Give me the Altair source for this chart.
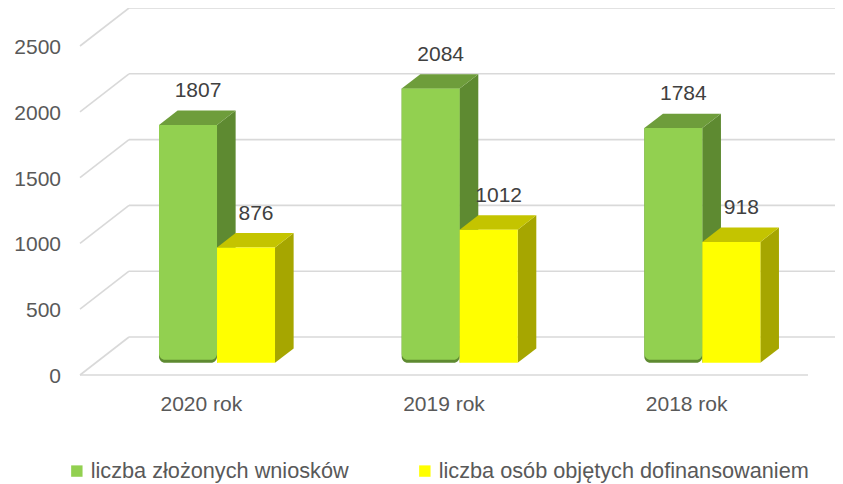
import altair as alt
import pandas as pd

# ---------------- data ----------------
years = ["2020 rok", "2019 rok", "2018 rok"]
series = ["liczba złożonych wniosków", "liczba osób objętych dofinansowaniem"]
wnioski = [1807, 2084, 1784]
osoby = [876, 1012, 918]
ticks = [0, 500, 1000, 1500, 2000, 2500]

# ---------------- styles ----------------
front_colors = ["#92D050", "#FFFF00"]
side_colors = ["#5E8A31", "#A6A600"]
top_colors = ["#6E9D3B", "#C4C400"]
grid_color = "#D9D9D9"
FONT = "Liberation Sans"

# ---------------- layout (pixels) ----------------
W, H = 767, 476
PAD_L = 60
U = 2500 / 329            # value units per pixel on the y scale
Y_MAX = 367 * U
Y_MIN = Y_MAX - H * U
FLOOR_X0, FLOOR_W = 12, 728
BAND = FLOOR_W / len(years)
BAR_W = 58
DEPTH_X, DEPTH_Y = 49, 38
D0, D1 = 0.32, 0.70
BDX = DEPTH_X * (D1 - D0)
BDY = DEPTH_Y * (D1 - D0) * U
YB = DEPTH_Y * D0 * U

rows = []
for i, yr in enumerate(years):
    for j, vals in enumerate([wnioski, osoby]):
        rows.append({"year": yr, "idx": i, "series": series[j], "sidx": j, "value": vals[i]})
bars = pd.DataFrame(rows)
faces = bars.merge(pd.DataFrame({"t": [0, 1]}), how="cross")
grid = pd.DataFrame({"v": ticks})
cats = pd.DataFrame({"year": years, "idx": list(range(len(years)))})

xs = alt.Scale(domain=[0, W], nice=False, zero=False)
ys = alt.Scale(domain=[Y_MIN, Y_MAX], nice=False, zero=False)


def geom(ch):
    return ch.transform_calculate(
        xl=f"{FLOOR_X0} + (datum.idx + 0.5) * {BAND} + (datum.sidx - 1) * {BAR_W} + {DEPTH_X * D0}",
    ).transform_calculate(
        xr=f"datum.xl + {BAR_W}",
        yb=f"{YB}",
        yt=f"{YB} + datum.value",
    )


# ---- grid: back wall, left wall diagonals, floor front edge ----
back = alt.Chart(grid).transform_calculate(
    bx=f"{FLOOR_X0 + DEPTH_X}", bx2=f"{W}"
).mark_rule(color=grid_color, strokeWidth=1.6, yOffset=-DEPTH_Y).encode(
    x=alt.X("bx:Q", scale=xs, axis=None), x2="bx2:Q",
    y=alt.Y("v:Q", scale=ys, axis=None),
)

diag = alt.Chart(grid).transform_calculate(
    dx=f"{FLOOR_X0}", dx2=f"{FLOOR_X0 + DEPTH_X}", dy2=f"datum.v + {DEPTH_Y * U}"
).mark_rule(color=grid_color, strokeWidth=1.6).encode(
    x=alt.X("dx:Q", scale=xs, axis=None), x2="dx2:Q",
    y=alt.Y("v:Q", scale=ys, axis=None), y2="dy2:Q",
)

floor = alt.Chart(grid).transform_filter("datum.v == 0").transform_calculate(
    fx=f"{FLOOR_X0}", fx2=f"{FLOOR_X0 + FLOOR_W}"
).mark_rule(color=grid_color, strokeWidth=1.6).encode(
    x=alt.X("fx:Q", scale=xs, axis=None), x2="fx2:Q",
    y=alt.Y("v:Q", scale=ys, axis=None),
)

# ---- y tick labels (front plane) ----
ylabels = alt.Chart(grid).transform_calculate(
    ax="-7"
).mark_text(fontSize=21, font=FONT, color="#595959", baseline="middle", align="right", dy=2).encode(
    x=alt.X("ax:Q", scale=xs, axis=None),
    y=alt.Y("v:Q", scale=ys, axis=None),
    text="v:Q",
)


def side_layer(j):
    return geom(alt.Chart(faces)).transform_filter(f"datum.sidx == {j}").transform_calculate(
        sx=f"datum.xr + datum.t * {BDX}",
        sy=f"datum.yt + datum.t * {BDY}",
        sy2=f"datum.yb + datum.t * {BDY}",
    ).mark_area(orient="vertical", color=side_colors[j], opacity=1).encode(
        x=alt.X("sx:Q", scale=xs, axis=None),
        y=alt.Y("sy:Q", scale=ys, axis=None, stack=None), y2="sy2:Q",
        detail="year:N",
    )


def top_layer(j):
    return geom(alt.Chart(faces)).transform_filter(f"datum.sidx == {j}").transform_calculate(
        ty=f"datum.yt + datum.t * {BDY}",
        tx=f"datum.xl + datum.t * {BDX}",
        tx2=f"datum.xr + datum.t * {BDX}",
    ).mark_area(orient="horizontal", color=top_colors[j], opacity=1).encode(
        y=alt.Y("ty:Q", scale=ys, axis=None),
        x=alt.X("tx:Q", scale=xs, axis=None, stack=None), x2="tx2:Q",
        detail="year:N",
    )


# ---- front faces ----
green_shadow = geom(alt.Chart(bars)).transform_filter("datum.sidx == 0").mark_rect(
    color="#5E8A31", cornerRadiusBottomLeft=6, cornerRadiusBottomRight=6
).encode(
    x=alt.X("xl:Q", scale=xs, axis=None), x2="xr:Q",
    y=alt.Y("yt:Q", scale=ys, axis=None), y2="yb:Q",
)

green_front = geom(alt.Chart(bars)).transform_filter("datum.sidx == 0").transform_calculate(
    yb2=f"datum.yb + {3 * U}"
).mark_rect(
    color=front_colors[0], cornerRadiusBottomLeft=6, cornerRadiusBottomRight=6
).encode(
    x=alt.X("xl:Q", scale=xs, axis=None), x2="xr:Q",
    y=alt.Y("yt:Q", scale=ys, axis=None), y2="yb2:Q",
)

yellow_front = geom(alt.Chart(bars)).transform_filter("datum.sidx == 1").mark_rect().encode(
    x=alt.X("xl:Q", scale=xs, axis=None), x2="xr:Q",
    y=alt.Y("yt:Q", scale=ys, axis=None), y2="yb:Q",
    color=alt.Color("series:N", scale=alt.Scale(domain=series, range=front_colors),
                    legend=alt.Legend(
                        orient="none", legendX=-2, legendY=452, direction="horizontal",
                        title=None, symbolType="square", symbolSize=130,
                        symbolStrokeWidth=0, labelFontSize=21.7, labelFont=FONT,
                        labelColor="#595959", labelLimit=0, columnPadding=65,
                        labelOffset=3, padding=0)),
)

# ---- value labels ----
labels = geom(alt.Chart(bars)).transform_calculate(
    lx="(datum.xl + datum.xr) / 2 + 10",
    ly=f"datum.yt + {34 * U}",
).mark_text(fontSize=21, font=FONT, color="#404040", baseline="middle", align="center").encode(
    x=alt.X("lx:Q", scale=xs, axis=None),
    y=alt.Y("ly:Q", scale=ys, axis=None),
    text="value:Q",
)

# ---- category labels ----
catlab = alt.Chart(cats).transform_calculate(
    cx=f"{FLOOR_X0} + (datum.idx + 0.5) * {BAND}",
    cy=f"{-30 * U}",
).mark_text(fontSize=21, font=FONT, color="#595959", baseline="middle", align="center").encode(
    x=alt.X("cx:Q", scale=xs, axis=None),
    y=alt.Y("cy:Q", scale=ys, axis=None),
    text="year:N",
)

chart = alt.layer(
    back, diag, floor, ylabels,
    side_layer(0), top_layer(0), green_shadow, green_front,
    side_layer(1), top_layer(1), yellow_front,
    labels, catlab
).properties(
    width=W, height=H,
    autosize=alt.AutoSizeParams(type="none"),
    padding={"left": PAD_L, "top": 0, "right": 0, "bottom": 0},
    background="white",
).configure_view(stroke=None)

chart.save("out.html", embed_options={"renderer": "svg", "actions": False})
